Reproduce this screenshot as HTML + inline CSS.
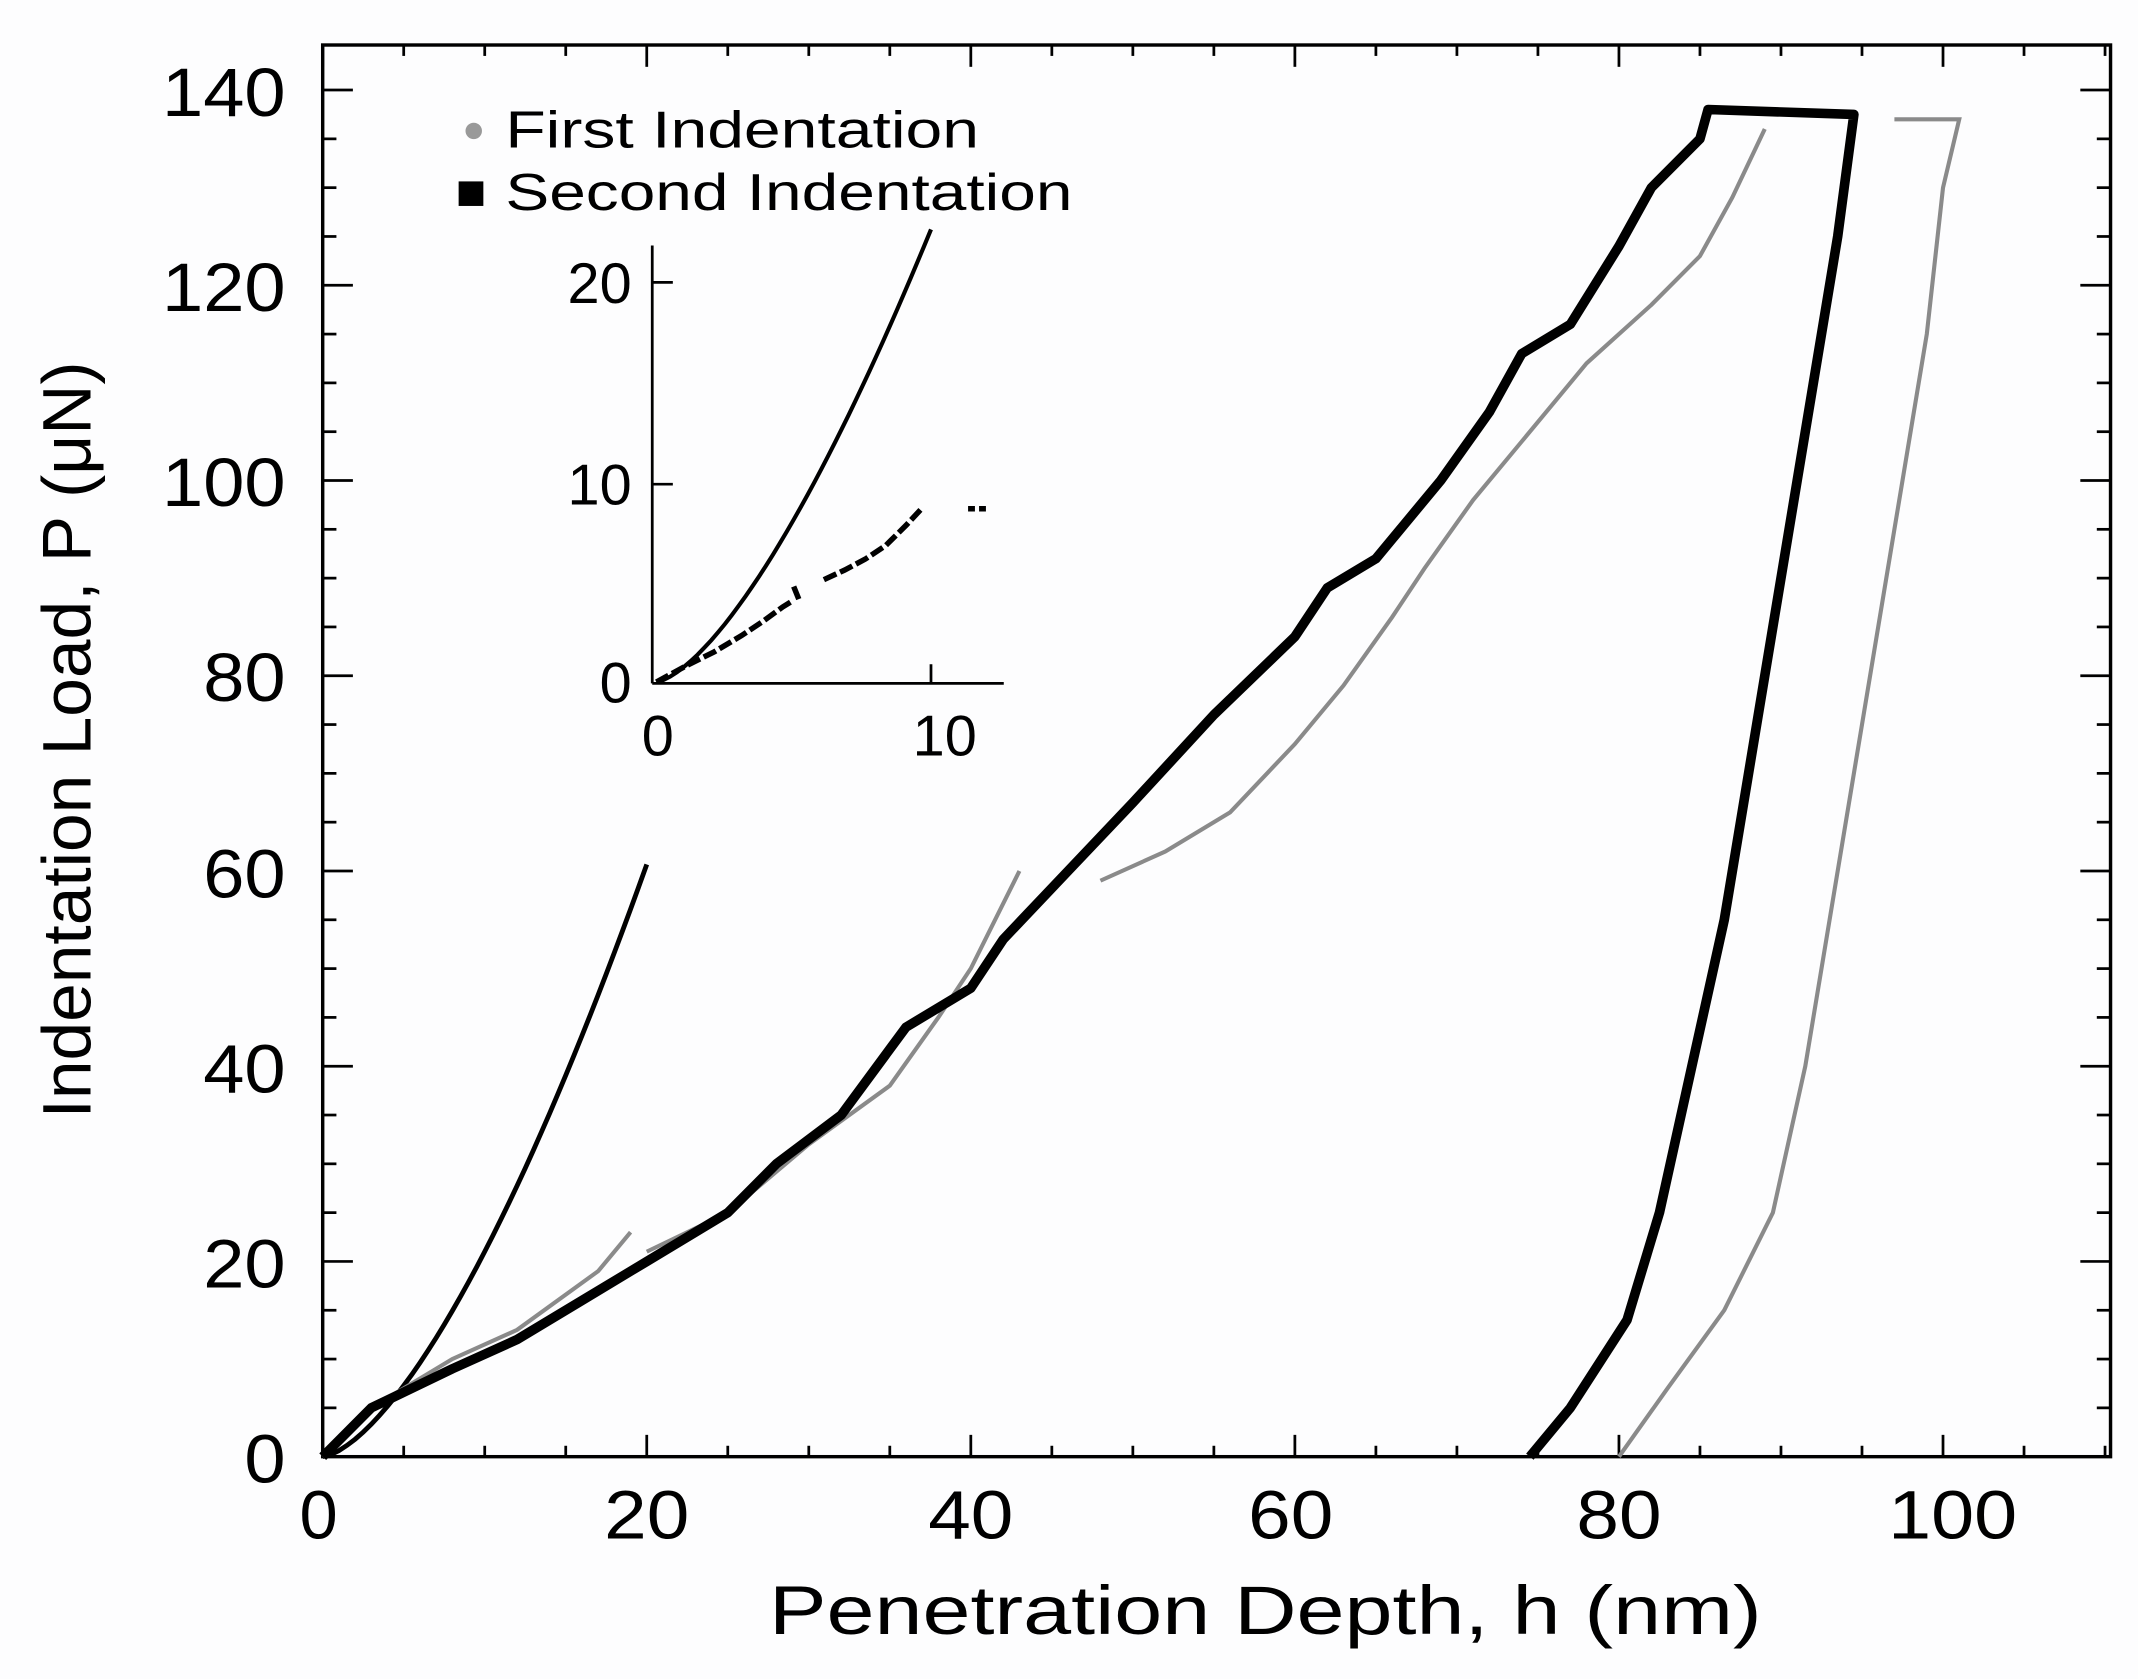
<!DOCTYPE html>
<html><head><meta charset="utf-8"><style>
html,body{margin:0;padding:0;background:#fff;}
svg{display:block;}
text{font-family:"Liberation Sans",sans-serif;fill:#000;}
</style></head><body>
<svg id="sv" width="2138" height="1679" viewBox="0 0 1557 1231" preserveAspectRatio="none" xmlns="http://www.w3.org/2000/svg">
<rect x="0" y="0" width="1557" height="1231" fill="#fdfdfe"/>
<g id="ticks" stroke="#000" stroke-width="2"></g>
<rect x="235" y="33" width="1302" height="1035" fill="none" stroke="#000" stroke-width="2.5"/>
<g font-size="50" text-anchor="end">
<text x="208" y="1087" textLength="30" lengthAdjust="spacingAndGlyphs">0</text>
<text x="208" y="944" textLength="60" lengthAdjust="spacingAndGlyphs">20</text>
<text x="208" y="801" textLength="60" lengthAdjust="spacingAndGlyphs">40</text>
<text x="208" y="658" textLength="60" lengthAdjust="spacingAndGlyphs">60</text>
<text x="208" y="514" textLength="60" lengthAdjust="spacingAndGlyphs">80</text>
<text x="208" y="371" textLength="90" lengthAdjust="spacingAndGlyphs">100</text>
<text x="208" y="228" textLength="90" lengthAdjust="spacingAndGlyphs">120</text>
<text x="208" y="85" textLength="90" lengthAdjust="spacingAndGlyphs">140</text>
</g>
<g font-size="50" text-anchor="middle">
<text x="232" y="1128">0</text><text x="471" y="1128" textLength="62" lengthAdjust="spacingAndGlyphs">20</text><text x="707" y="1128" textLength="62" lengthAdjust="spacingAndGlyphs">40</text>
<text x="940" y="1128" textLength="62" lengthAdjust="spacingAndGlyphs">60</text><text x="1179" y="1128" textLength="62" lengthAdjust="spacingAndGlyphs">80</text><text x="1422" y="1128" textLength="94" lengthAdjust="spacingAndGlyphs">100</text>
</g>
<text x="560" y="1198" font-size="50" textLength="723" lengthAdjust="spacingAndGlyphs">Penetration Depth, h (nm)</text>
<text transform="translate(66,820) rotate(-90)" font-size="50" textLength="555" lengthAdjust="spacingAndGlyphs">Indentation Load, P (μN)</text>
<!-- legend -->
<circle cx="345" cy="96" r="6" fill="#999"/>
<text x="368" y="108" font-size="38" textLength="345" lengthAdjust="spacingAndGlyphs">First Indentation</text>
<rect x="334" y="133" width="18" height="18" fill="#000"/>
<text x="368" y="154" font-size="38" textLength="413" lengthAdjust="spacingAndGlyphs">Second Indentation</text>
<!-- inset -->
<line x1="475" y1="180" x2="475" y2="501" stroke="#000" stroke-width="2"/>
<line x1="475" y1="501" x2="731" y2="501" stroke="#000" stroke-width="2"/>
<line x1="475" y1="207" x2="490" y2="207" stroke="#000" stroke-width="2"/>
<line x1="475" y1="355" x2="490" y2="355" stroke="#000" stroke-width="2"/>
<line x1="678" y1="501" x2="678" y2="487" stroke="#000" stroke-width="2"/>
<g font-size="42" text-anchor="end"><text x="460" y="515">0</text><text x="460" y="370">10</text><text x="460" y="222">20</text></g>
<g font-size="42" text-anchor="middle"><text x="479" y="554">0</text><text x="688" y="554">10</text></g>
<path id="ifit" fill="none" stroke="#000" stroke-width="3"/>
<path d="M478,500 L500,488 L520,478 L540,466 L555,456 L570,445 L578,440 M578,430 L582,440 M600,425 L615,418 L630,410 L645,400 L660,385 L672,372 M705,373 L710,373 M713,373 L718,373" fill="none" stroke="#000" stroke-width="4" stroke-dasharray="10 3"/>
<!-- main -->
<path id="mfit" fill="none" stroke="#000" stroke-width="3.5"/>
<path id="first" fill="none" stroke="#8a8a8a" stroke-width="3"/>
<path id="second" fill="none" stroke="#000" stroke-width="7" stroke-linejoin="round"/>
<script>
var NS="http://www.w3.org/2000/svg";
var X=h=>235+11.8*h, Y=p=>1068-7.157*p;
var t=document.getElementById('ticks');
function ln(x1,y1,x2,y2){var l=document.createElementNS(NS,'line');l.setAttribute('x1',x1);l.setAttribute('y1',y1);l.setAttribute('x2',x2);l.setAttribute('y2',y2);t.appendChild(l);}
for(var h=0;h<=110;h+=5){var x=X(h),L=h%20==0?16:8;ln(x,1068,x,1068-L);ln(x,33,x,33+L);}
for(var p=0;p<=140;p+=5){var y=Y(p),L=p%20==0?22:10;ln(235,y,235+L,y);ln(1537,y,1537-L,y);}
function P(pts){return 'M'+pts.map(q=>X(q[0]).toFixed(1)+','+Y(q[1]).toFixed(1)).join(' L');}
var d='';for(var h=0;h<=20;h+=0.5){var p=0.62*Math.pow(h,1.53);d+=(h?' L':'M')+X(h).toFixed(1)+','+Y(p).toFixed(1);}
document.getElementById('mfit').setAttribute('d',d);
d='';for(var h=0;h<=10.1;h+=0.25){var p=0.75*Math.pow(h,1.48);d+=(h?' L':'M')+(478+20*h).toFixed(1)+','+(500-14.65*p).toFixed(1);}
document.getElementById('ifit').setAttribute('d',d);
document.getElementById('second').setAttribute('d',P([[0,0],[3,5],[8,9],[12,12],[16,16],[20,20],[25,25],[28,30],[32,35],[36,44],[40,48],[42,53],[46,60],[50,67],[55,76],[60,84],[62,89],[65,92],[69,100],[72,107],[74,113],[77,116],[80,124],[82,130],[85,135],[85.5,138],[94.5,137.5],[93.5,125],[91,100],[88.5,75],[86.5,55],[84.5,40],[82.5,25],[80.5,14],[77,5],[74.5,0]]));
document.getElementById('first').setAttribute('d',P([[0,0],[3,5],[8,10],[12,13],[17,19],[19,23]])+' '+P([[20,21],[25,25],[30,32],[35,38],[38,45],[40,50],[43,60]])+' '+P([[48,59],[52,62],[56,66],[60,73],[63,79],[66,86],[68,91],[71,98],[74,104],[78,112],[82,118],[85,123],[87,129],[89,136]])+' '+P([[97,137],[101,137],[100,130],[99,115],[97,95],[95,75],[93,55],[91.5,40],[89.5,25],[86.5,15],[83,7],[80,0]]));
</script>
</svg>
</body></html>
